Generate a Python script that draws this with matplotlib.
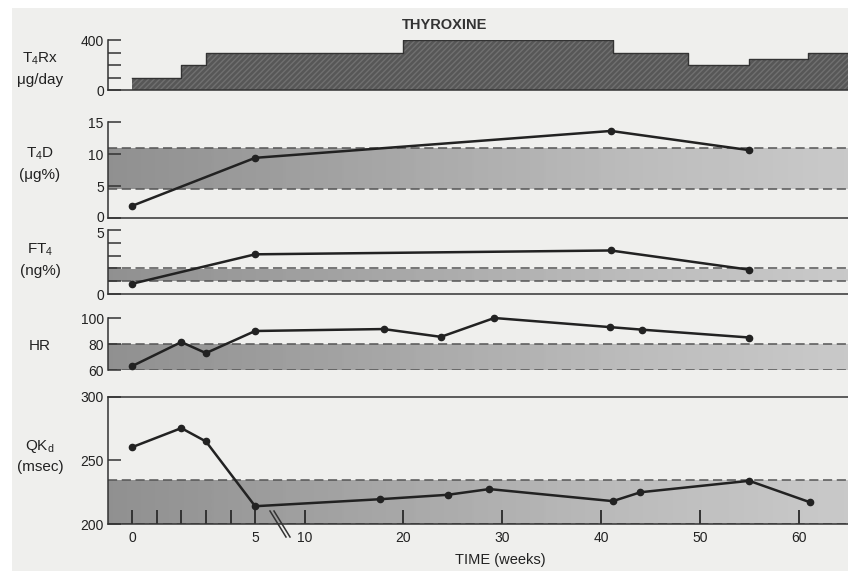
import matplotlib.pyplot as plt
import matplotlib.transforms as mtransforms
import numpy as np
from matplotlib.patches import Rectangle

plt.rcParams["font.family"] = ["Liberation Sans", "DejaVu Sans"]
plt.rcParams["mathtext.fontset"] = "custom"
plt.rcParams["mathtext.rm"] = "Liberation Sans"
plt.rcParams["mathtext.it"] = "Liberation Sans"

# weeks, piecewise scale: 0-5 wide, after 5 compressed
BREAK = 5.0
RATIO = 0.4016

# thyroxine dose steps (week of change, dose ug/day)
dose_weeks = [0, 2, 3, 20, 41.2, 48.8, 55, 61, 65]
dose_vals = [100, 200, 300, 400, 300, 200, 250, 300, 300]

t4d_weeks = [0, 5, 41, 55]
t4d_vals = [1.9, 9.4, 13.6, 10.6]
t4d_norm = (4.5, 11)

ft4_weeks = [0, 5, 41, 55]
ft4_vals = [0.8, 3.1, 3.4, 1.9]
ft4_norm = (1.0, 2.0)

hr_weeks = [0, 2, 3, 5, 18, 23.8, 29.2, 40.9, 44.2, 55]
hr_vals = [63, 81.5, 73, 90, 91.5, 85.5, 100, 93, 91, 85]
hr_norm = (60, 80)

qk_weeks = [0, 2, 3, 5, 17.6, 24.5, 28.7, 41.2, 44, 55, 61.2]
qk_vals = [260.5, 275.5, 265, 214, 219.5, 223, 227.5, 218, 225, 234, 217]
qk_norm = (200, 235)

xticks = [0, 1, 2, 3, 4, 5, 10, 20, 30, 40, 50, 60]
xticklabels = ["0", "", "", "", "", "5", "10", "20", "30", "40", "50", "60"]


def fwd(w):
    w = np.asarray(w, dtype=float)
    return np.where(w <= BREAK, w, BREAK + (w - BREAK) * RATIO)


def inv(u):
    u = np.asarray(u, dtype=float)
    return np.where(u <= BREAK, u, BREAK + (u - BREAK) / RATIO)


W, H = 848, 571
fig = plt.figure(figsize=(W / 100, H / 100), dpi=100, facecolor="white")
fig.patches.append(Rectangle((12 / W, 0), 1, 1 - 8 / H, transform=fig.transFigure,
                             facecolor="#efefed", edgecolor="none", zorder=-10))


def make_ax(top_px, bot_px):
    ax = fig.add_axes([108 / W, 1 - bot_px / H, (W - 108) / W, (bot_px - top_px) / H])
    ax.set_facecolor("none")
    ax.set_xscale("function", functions=(fwd, inv))
    ax.set_xlim(-0.98, 65)
    for s in ax.spines.values():
        s.set_color("#333333")
        s.set_linewidth(1.1)
    ax.spines["right"].set_visible(False)
    ax.spines["top"].set_visible(False)
    ax.tick_params(axis="y", direction="in", length=9, width=1.1, color="#333333",
                   labelsize=10, pad=3, labelcolor="#222222")
    ax.set_xticks([])
    return ax


def band(ax, lo, hi):
    grad = np.linspace(0, 1, 256).reshape(1, -1)
    ax.imshow(grad, extent=[0, 1, lo, hi], transform=ax.get_yaxis_transform(),
              aspect="auto", cmap="Greys_r", vmin=-2.4, vmax=2.6, zorder=0,
              interpolation="bilinear")
    for v in (lo, hi):
        ax.axhline(v, color="#555555", lw=1.1, ls=(0, (6, 3)), zorder=1)


def series(ax, x, y):
    ax.plot(x, y, color="#222222", lw=1.8, marker="o", ms=4.5, zorder=3, clip_on=False)


def ylabel(ax, text, ypx):
    fig.text(40 / W, 1 - ypx / H, text, ha="center", va="center", fontsize=11,
             color="#222222", linespacing=1.5)


def nudge(label, dy_px):
    off = mtransforms.ScaledTranslation(0, dy_px / 100, fig.dpi_scale_trans)
    label.set_transform(label.get_transform() + off)


# T4Rx
ax0 = make_ax(40, 90)
ax0.fill_between(dose_weeks, dose_vals, step="post", facecolor="#575757",
                 edgecolor="#707070", hatch="//////", lw=0, zorder=1)
ax0.step(dose_weeks, dose_vals, where="post", color="#333333", lw=1.0, zorder=2)
ax0.set_ylim(0, 400)
ax0.set_yticks([0, 100, 200, 300, 400])
ax0.set_yticklabels(["0", "", "", "", "400"])
ylabel(ax0, "T$_4$Rx\nμg/day", 69)
fig.text(445 / W, 1 - 25 / H, "THYROXINE", ha="center", va="center",
         fontsize=10.5, fontweight="bold", color="#333333")

# T4D
ax1 = make_ax(122, 218)
band(ax1, *t4d_norm)
series(ax1, t4d_weeks, t4d_vals)
ax1.set_ylim(0, 15)
ax1.set_yticks([0, 5, 10, 15])
nudge(ax1.get_yticklabels()[0], 2)
ylabel(ax1, "T$_4$D\n(μg%)", 164)

# FT4
ax2 = make_ax(230, 294)
band(ax2, *ft4_norm)
series(ax2, ft4_weeks, ft4_vals)
ax2.set_ylim(0, 5)
ax2.set_yticks([0, 1, 2, 3, 4, 5])
ax2.set_yticklabels(["0", "", "", "", "", "5"])
nudge(ax2.get_yticklabels()[-1], -3)
ylabel(ax2, "FT$_4$\n(ng%)", 260)

# HR
ax3 = make_ax(318, 370)
ax3.spines["bottom"].set_visible(False)
band(ax3, *hr_norm)
series(ax3, hr_weeks, hr_vals)
ax3.set_ylim(60, 100)
ax3.set_yticks([60, 80, 100])
ylabel(ax3, "HR", 346)

# QKd
ax4 = make_ax(397, 524)
ax4.spines["top"].set_visible(True)
band(ax4, *qk_norm)
series(ax4, qk_weeks, qk_vals)
ax4.set_ylim(200, 300)
ax4.set_yticks([200, 250, 300])
ax4.set_xticks(xticks)
ax4.set_xticklabels(xticklabels)
ax4.tick_params(axis="x", direction="in", length=10, width=1.4, color="#333333",
                labelsize=10, pad=5, labelcolor="#222222")
ax4.set_xlim(-0.98, 65)
ylabel(ax4, "QK$_d$\n(msec)", 456)
fig.text(500 / W, 1 - 560 / H, "TIME (weeks)", ha="center", va="center",
         fontsize=10.5, color="#222222")

# axis break marks
for dx in (0, 4):
    fig.add_artist(plt.Line2D([(270 + dx) / W, (286 + dx) / W],
                              [1 - 511 / H, 1 - 537 / H], color="#333333", lw=1.1))

fig.savefig("out.png", dpi=100, facecolor=fig.get_facecolor())
